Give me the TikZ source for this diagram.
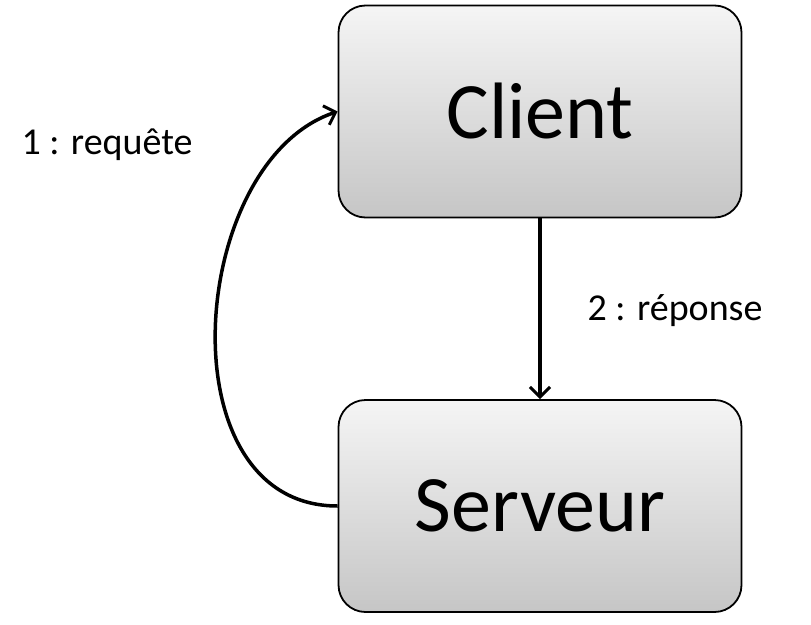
\documentclass[tikz,border=0pt]{standalone}
\usepackage{fontspec}
\setmainfont{Carlito}
\usetikzlibrary{arrows.meta}
\tikzset{
  boite/.style={draw=black, line width=1.8pt, rounded corners=27pt,
    top color=gray!8, bottom color=gray!45,
    minimum width=403pt, minimum height=212pt,
    font=\fontsize{80}{96}\selectfont},
  etiquette/.style={font=\fontsize{38}{46}\selectfont},
  fleche/.style={line width=3.5pt, -{Straight Barb[length=10pt,width=20pt,line width=3pt]}}
}
\begin{document}
\begin{tikzpicture}
  \useasboundingbox (0pt,0pt) rectangle (811pt,-624pt);
  \node[boite] (client) at (540pt,-111.5pt) {Client};
  \node[boite] (serveur) at (540pt,-506pt) {Serveur};
  \node[etiquette] (requete) at (107pt,-145pt) {1 : requête};
  \node[etiquette] (reponse) at (675pt,-311pt) {2 : réponse};
  \draw[fleche] (client.south) -- (serveur.north);
  \draw[fleche] (serveur.west) .. controls +(-175pt,0pt) and +(-150pt,-50pt) .. (client.west);
\end{tikzpicture}
\end{document}
